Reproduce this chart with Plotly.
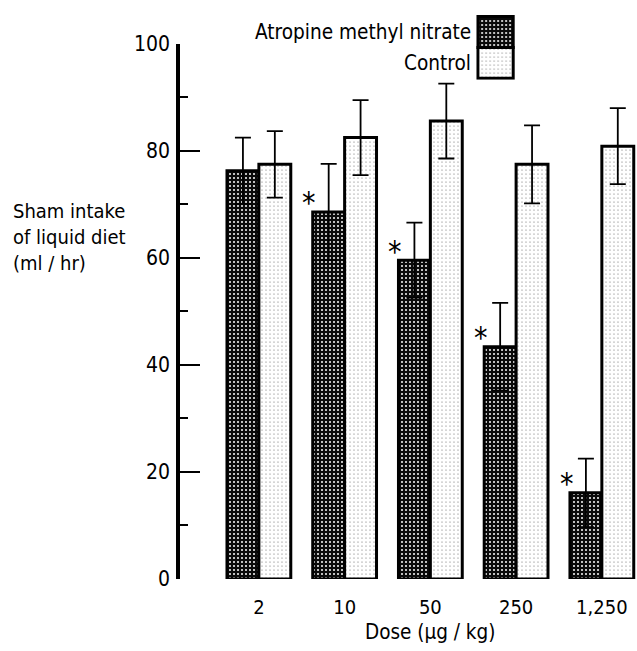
import plotly.graph_objects as go

# ---- data ----
dose = ["2", "10", "50", "250", "1,250"]
atropine = [76.3, 68.6, 59.6, 43.4, 16.1]
atropine_err = [6.2, 9.0, 7.0, 8.2, 6.4]
control = [77.5, 82.5, 85.6, 77.5, 80.9]
control_err = [6.2, 7.0, 7.0, 7.3, 7.1]
significant = [False, True, True, True, True]

FONT = "DejaVu Sans Condensed, DejaVu Sans, sans-serif"

DARK_PATTERN = dict(shape=".", fillmode="replace", bgcolor="#0a0a0a",
                    fgcolor="white", size=4, solidity=0.2)
LIGHT_PATTERN = dict(shape=".", fillmode="replace", bgcolor="white",
                     fgcolor="#666", size=4, solidity=0.07)

fig = go.Figure()

err_style = dict(type="data", color="black", thickness=1.8, width=8, visible=True)

fig.add_trace(go.Bar(
    x=dose, y=atropine, name="Atropine methyl nitrate",
    error_y=dict(array=atropine_err, **err_style),
    marker=dict(color="black", line=dict(color="black", width=3), pattern=DARK_PATTERN),
    showlegend=False,
))
fig.add_trace(go.Bar(
    x=dose, y=control, name="Control",
    error_y=dict(array=control_err, **err_style),
    marker=dict(color="white", line=dict(color="black", width=3), pattern=LIGHT_PATTERN),
    showlegend=False,
))

# legend swatches drawn as bars in a small inset axis
fig.add_trace(go.Bar(x=[0], y=[1], base=[1], width=[1], offset=[-0.5],
                     xaxis="x2", yaxis="y2", showlegend=False, hoverinfo="skip",
                     marker=dict(color="black", line=dict(color="black", width=3),
                                 pattern=DARK_PATTERN)))
fig.add_trace(go.Bar(x=[0], y=[1], base=[0], width=[1], offset=[-0.5],
                     xaxis="x2", yaxis="y2", showlegend=False, hoverinfo="skip",
                     marker=dict(color="white", line=dict(color="black", width=3),
                                 pattern=LIGHT_PATTERN)))

annotations = []
for i, (v, s) in enumerate(zip(atropine, significant)):
    if s:
        annotations.append(dict(x=i - 0.41, y=v + 3, xref="x", yref="y", text="*",
                                showarrow=False, yshift=-7,
                                font=dict(family=FONT, size=30, color="black")))

annotations += [
    dict(x=-0.55, y=1.5, xref="x2", yref="y2", text="Atropine methyl nitrate",
         xanchor="right", yanchor="middle", showarrow=False, xshift=-3,
         font=dict(family=FONT, size=20.6, color="black")),
    dict(x=-0.55, y=0.5, xref="x2", yref="y2", text="Control",
         xanchor="right", yanchor="middle", showarrow=False, xshift=-3,
         font=dict(family=FONT, size=20.6, color="black")),
    dict(x=-0.37, y=64, xref="paper", yref="y", text="Sham intake<br>of liquid diet<br>(ml / hr)",
         xanchor="left", yanchor="middle", align="left", showarrow=False,
         font=dict(family=FONT, size=20, color="black")),
    dict(x=2, y=-0.094, xref="x", yref="paper", text="Dose (µg / kg)",
         xanchor="center", yanchor="middle", showarrow=False,
         font=dict(family=FONT, size=20.5, color="black")),
]

fig.update_layout(
    width=637, height=651,
    margin=dict(l=180, r=0, t=15, b=72),
    paper_bgcolor="white", plot_bgcolor="white",
    barmode="group", bargap=0.256, bargroupgap=0,
    font=dict(family=FONT, size=20, color="black"),
    annotations=annotations,
    xaxis=dict(range=[-0.92, 4.41], showline=False, showgrid=False, zeroline=False,
               ticks="", ticklabelstandoff=14,
               tickfont=dict(family=FONT, size=20, color="black")),
    yaxis=dict(domain=[0, 0.9486], range=[0, 100], dtick=20, showline=True,
               linewidth=3.5, linecolor="black", showgrid=False, zeroline=False,
               ticks="inside", ticklen=20, tickwidth=2, tickcolor="black",
               minor=dict(ticks="inside", ticklen=8, dtick=10, tickwidth=2, tickcolor="black"),
               ticklabelstandoff=2,
               tickfont=dict(family=FONT, size=21, color="black")),
    xaxis2=dict(domain=[0.648, 0.733], range=[-0.55, 0.55], visible=False, anchor="y2"),
    yaxis2=dict(domain=[0.885, 1.0], range=[-0.05, 2.05], visible=False, anchor="x2"),
)

fig.write_html("out.html", config={"displayModeBar": False},
               post_script="document.body.style.margin='0';")
